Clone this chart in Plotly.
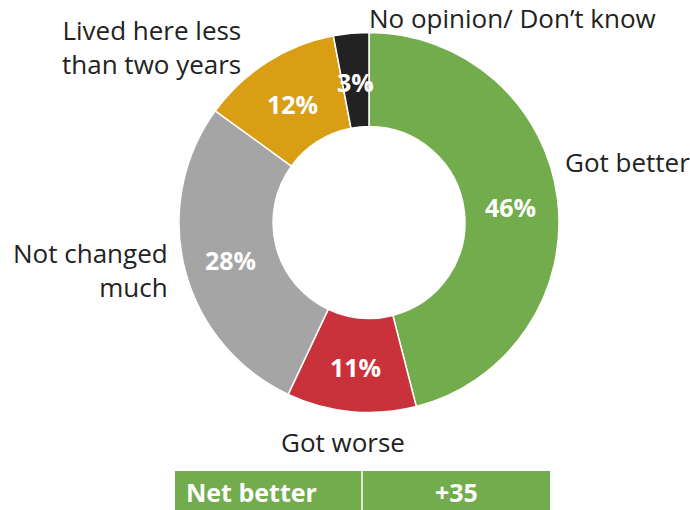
import math
import plotly.graph_objects as go

# Survey responses: how the area has changed
categories = ["Got better", "Got worse", "Not changed much",
              "Lived here less than two years", "No opinion/ Don't know"]
shares = [46, 11, 28, 12, 3]
colors = ["#72AC4D", "#C9323A", "#A5A5A5", "#D99E14", "#222222"]

W, H = 690, 510
net = shares[0] - shares[1]

# Donut geometry (pixels)
cx, cy = 369, 222.5
r_out = 190
hole = 0.505

fig = go.Figure(go.Pie(
    labels=categories,
    values=shares,
    sort=False,
    direction="clockwise",
    rotation=0,
    hole=hole,
    marker=dict(colors=colors, line=dict(color="white", width=1.5)),
    textinfo="none",
    domain=dict(x=[(cx - r_out) / W, (cx + r_out) / W],
                y=[1 - (cy + r_out) / H, 1 - (cy - r_out) / H]),
    showlegend=False,
    hoverinfo="label+percent",
))

annotations = []

# Percentage labels at the middle of each ring segment
pct_font = dict(family="Open Sans", size=25, color="white", weight="bold")
r_mid = r_out * (1 + hole) / 2
total = sum(shares)
cum = 0
for v in shares:
    ang = 2 * math.pi * (cum + v / 2) / total
    cum += v
    px = cx + r_mid * math.sin(ang)
    py = cy - r_mid * math.cos(ang) + 2
    annotations.append(dict(
        text=f"{v}%", x=px / W, y=1 - py / H, xref="paper", yref="paper",
        xanchor="center", yanchor="middle", showarrow=False, font=pct_font))

# Category labels around the ring
label_font = dict(family="Open Sans", size=26, color="#222222")
outer_labels = [
    ("No opinion/ Don\u2019t know", 512, 18, "center"),
    ("Got better", 627, 162, "center"),
    ("Got worse", 343, 442, "center"),
    ("Not changed<br>much", 170, 270, "right"),
    ("Lived here less<br>than two years", 243, 47, "right"),
]
for text, x, y, align in outer_labels:
    xanchor = "right" if align == "right" else "center"
    annotations.append(dict(
        text=text, x=x / W, y=1 - y / H, xref="paper", yref="paper",
        xanchor=xanchor, yanchor="middle", align=align, showarrow=False,
        font=label_font))

# Net-better summary row
tbl_top, tbl_bot = 471, 512
tbl_left, tbl_mid, tbl_right = 175, 362, 550
shapes = [
    dict(type="rect", xref="paper", yref="paper",
         x0=tbl_left / W, x1=tbl_right / W, y0=1 - tbl_bot / H, y1=1 - tbl_top / H,
         fillcolor="#72AC4D", line=dict(width=0), layer="below"),
    dict(type="line", xref="paper", yref="paper",
         x0=tbl_mid / W, x1=tbl_mid / W, y0=1 - tbl_bot / H, y1=1 - tbl_top / H,
         line=dict(color="white", width=1.5)),
]
cell_font = dict(family="Open Sans", size=25, color="white", weight="bold")
annotations.append(dict(
    text="Net better", x=184 / W, y=1 - 492 / H, xref="paper", yref="paper",
    xanchor="left", yanchor="middle", showarrow=False, font=cell_font))
annotations.append(dict(
    text=f"+{net}", x=(tbl_mid + tbl_right) / 2 / W, y=1 - 492 / H,
    xref="paper", yref="paper", xanchor="center", yanchor="middle",
    showarrow=False, font=cell_font))

fig.update_layout(
    width=W, height=H,
    margin=dict(l=0, r=0, t=0, b=0),
    paper_bgcolor="white",
    plot_bgcolor="white",
    annotations=annotations,
    shapes=shapes,
)

fig.write_html("out.html")
